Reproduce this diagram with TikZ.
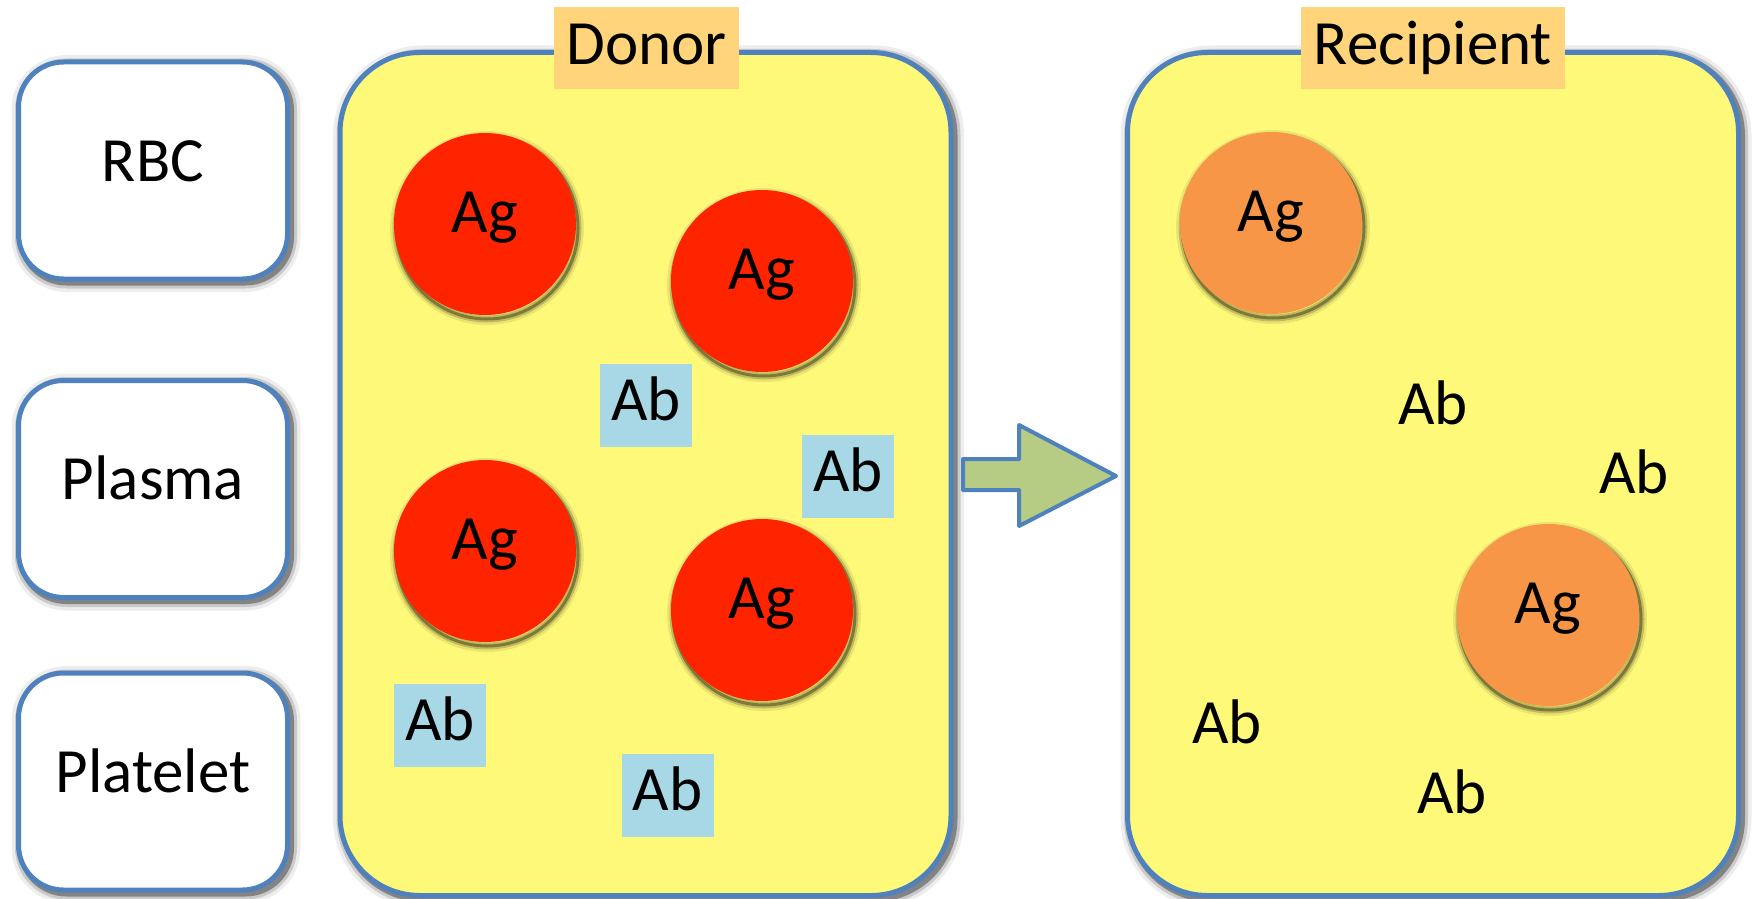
\documentclass[tikz,border=0pt]{standalone}
\usepackage{fontspec}
\setmainfont{Carlito}
\definecolor{boxblue}{RGB}{79,129,189}
\definecolor{plasmayellow}{RGB}{255,249,122}
\definecolor{cellred}{RGB}{255,36,0}
\definecolor{cellorange}{RGB}{247,150,70}
\definecolor{labelorange}{RGB}{255,212,122}
\definecolor{abblue}{RGB}{168,216,230}
\definecolor{arrowgreen}{RGB}{182,204,133}
\tikzset{
  txt/.style={font=\fontsize{63}{72}\selectfont, text=black},
  softshadow/.style={
    preaction={draw=black, draw opacity=0.07, line width=20pt, transform canvas={xshift=3pt,yshift=-3pt}},
    preaction={draw=black, draw opacity=0.15, line width=13pt, transform canvas={xshift=3pt,yshift=-3pt}},
    preaction={draw=black, draw opacity=0.35, line width=7pt, transform canvas={xshift=3pt,yshift=-3pt}}},
  cellshadow/.style={
    preaction={draw=black, draw opacity=0.08, line width=12pt, transform canvas={xshift=2pt,yshift=-4pt}},
    preaction={draw=black, draw opacity=0.18, line width=7pt, transform canvas={xshift=2pt,yshift=-4pt}},
    preaction={draw=black, draw opacity=0.35, line width=3pt, transform canvas={xshift=2pt,yshift=-4pt}}},
  sidebox/.style={txt, softshadow, draw=boxblue, line width=5pt, fill=white, rounded corners=45pt,
    minimum width=269pt, minimum height=217pt, text height=41pt, text depth=20pt},
  panel/.style={softshadow, draw=boxblue, line width=5pt, fill=plasmayellow, rounded corners=80pt,
    minimum width=611pt, minimum height=843pt},
  panellabel/.style={txt, fill=labelorange, minimum height=82pt, inner sep=0pt,
    text height=41pt, text depth=8pt},
  cell/.style={txt, cellshadow, circle, minimum size=182pt, inner sep=0pt,
    text height=41pt, text depth=24pt},
  redcell/.style={cell, fill=cellred},
  orangecell/.style={cell, fill=cellorange},
  abbox/.style={txt, fill=abblue, minimum width=92pt, minimum height=83pt, inner sep=0pt,
    text height=41pt, text depth=11pt},
  abfree/.style={txt, inner sep=0pt},
  blockarrow/.style={draw=boxblue, line width=4pt, fill=arrowgreen, line join=round}
}
\begin{document}
\begin{tikzpicture}[x=1pt, y=-1pt]
\useasboundingbox (0,0) rectangle (1754,899);
% side boxes
\node[sidebox] (rbc) at (153,170.5) {RBC};
\node[sidebox] (plasma) at (153,489) {Plasma};
\node[sidebox] (platelet) at (153,781.5) {Platelet};
% panels
\node[panel] (donor) at (645.5,474) {};
\node[panel] (recipient) at (1433,474) {};
\node[panellabel, minimum width=185pt] (donorlbl) at (646.5,48) {Donor};
\node[panellabel, minimum width=264pt] (reciplbl) at (1433,48) {Recipient};
% donor cells
\node[redcell] (ag1) at (485,224) {Ag};
\node[redcell] (ag2) at (762,281) {Ag};
\node[redcell] (ag3) at (485,551) {Ag};
\node[redcell] (ag4) at (762,610) {Ag};
\node[abbox] (ab1) at (646,405) {Ab};
\node[abbox] (ab2) at (848,476) {Ab};
\node[abbox] (ab3) at (440,725.5) {Ab};
\node[abbox] (ab4) at (667.5,795.5) {Ab};
% recipient
\node[orangecell] (rag1) at (1271,223) {Ag};
\node[orangecell] (rag2) at (1548,615) {Ag};
\node[abfree] (rab1) at (1433,403) {Ab};
\node[abfree] (rab2) at (1634,472) {Ab};
\node[abfree] (rab3) at (1227,722) {Ab};
\node[abfree] (rab4) at (1452,792) {Ab};
% arrow
\draw[blockarrow] (963,459) -- (1019,459) -- (1019,425) -- (1116,476) -- (1019,526) -- (1019,490) -- (963,490) -- cycle;
\end{tikzpicture}
\end{document}
